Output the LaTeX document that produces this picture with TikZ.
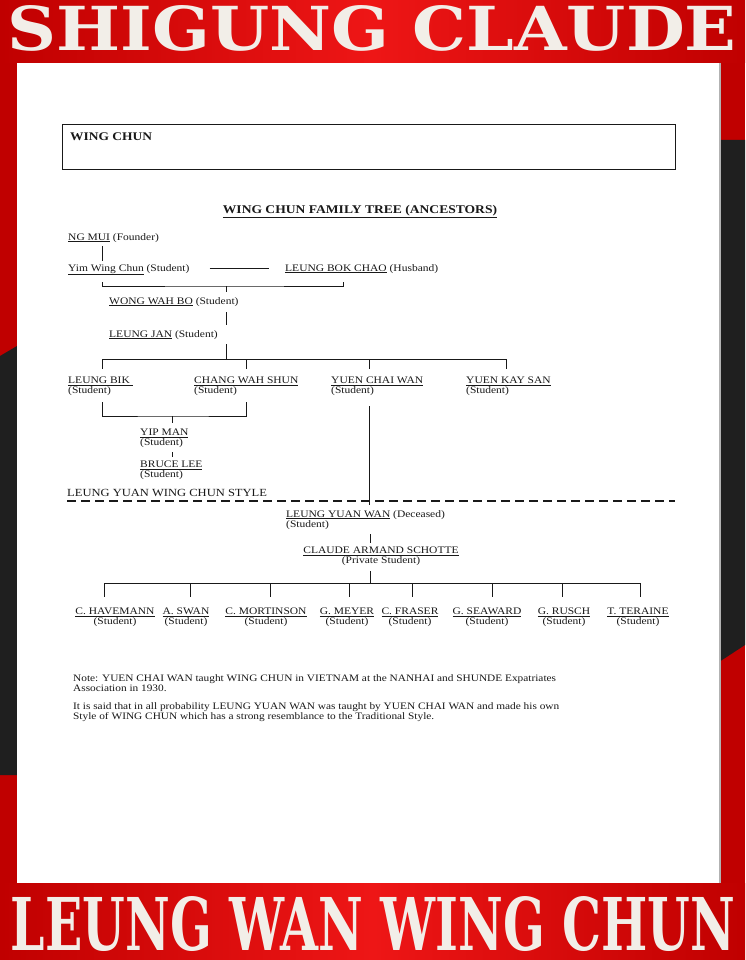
\documentclass[tikz,border=0pt]{standalone}
\usepackage{fontspec}
\usepackage{graphicx}
\setmainfont{Liberation Serif}[FakeStretch=1.15]
\newfontfamily\bannerfont{DejaVu Serif}
\usetikzlibrary{positioning,calc}

\definecolor{bannerred}{RGB}{238,22,22}
\definecolor{bannerdark}{RGB}{192,0,0}
\definecolor{stencil}{RGB}{242,238,232}
\definecolor{inkgray}{RGB}{25,25,25}

\begin{document}
\begin{tikzpicture}[x=1pt,y=-1pt,
  font=\fontsize{10}{10}\selectfont,text=inkgray,
  oneline/.style={inner sep=0pt,anchor=base west},
  person/.style={inner sep=0pt,align=left,anchor=north west},
  pupil/.style={inner sep=0pt,align=center,anchor=north},
  link/.style={draw=inkgray,line width=1pt},
  divider/.style={draw=inkgray,line width=1.1pt,dash pattern=on 9pt off 5pt},
  banner/.style={text=stencil,inner sep=0pt}
]
\useasboundingbox (0,0) rectangle (745,960);

% frame and page
\fill[bannerdark] (0,0) rectangle (745,960);
\shade[left color=bannerdark,right color=bannerred] (0,0) rectangle (372,63);
\shade[left color=bannerred,right color=bannerdark] (372,0) rectangle (745,63);
\shade[left color=bannerdark,right color=bannerred] (0,883) rectangle (372,960);
\shade[left color=bannerred,right color=bannerdark] (372,883) rectangle (745,960);
\fill[black!88] (0,356) -- (17,346) -- (17,775) -- (0,775) -- cycle;
\fill[black!88] (719,140) -- (745,140) -- (745,645) -- (719,662) -- cycle;
\fill[white] (17,63) rectangle (719,883);
\draw[gray!60,line width=1.5pt] (720,63) -- (720,883);

\node[banner] (topline) at (372,28) {\resizebox{729pt}{45pt}{\bannerfont\bfseries SHIGUNG CLAUDE}};
\node[banner] (bottomline) at (373,924) {\resizebox{724pt}{54pt}{\bannerfont\bfseries LEUNG WAN WING CHUN}};

% heading
\node[draw=inkgray,line width=1pt,inner sep=0pt,minimum width=613pt,minimum height=45pt,anchor=north west] (headbox) at (62,124.5) {};
\node[oneline,font=\fontsize{11.7}{12}\selectfont\bfseries] (headtxt) at (70,141) {WING CHUN};
\node[inner sep=0pt,anchor=base,font=\fontsize{11.8}{12}\selectfont\bfseries] (title) at (360,213) {\underline{WING CHUN FAMILY TREE (ANCESTORS)}};

% ancestors
\node[oneline] (ngmui) at (68,240) {\underline{NG MUI} (Founder)};
\node[oneline] (yim) at (68,271) {\underline{Yim Wing Chun} (Student)};
\node[oneline] (bok) at (285,271) {\underline{LEUNG BOK CHAO} (Husband)};
\node[oneline] (wong) at (109,304) {\underline{WONG WAH BO} (Student)};
\node[oneline] (jan) at (109,337) {\underline{LEUNG JAN} (Student)};

\node[person] (bik) at (68,377) {\underline{LEUNG BIK\ }\\(Student)};
\node[person] (chang) at (194,377) {\underline{CHANG WAH SHUN}\\(Student)};
\node[person] (yuencw) at (331,377) {\underline{YUEN CHAI WAN}\\(Student)};
\node[person] (yuenks) at (466,377) {\underline{YUEN KAY SAN}\\(Student)};
\node[person] (yip) at (140,429) {\underline{YIP MAN}\\(Student)};
\node[person] (bruce) at (140,461) {\underline{BRUCE LEE}\\(Student)};

\coordinate (parents) at (226,286);
\coordinate (janbar) at (226,359);
\coordinate (yipjoin) at (172,416);
\coordinate (spine) at (369,505);

\draw[link] ([xshift=34pt,yshift=-4pt]ngmui.south west) -- ([xshift=34pt,yshift=3pt]yim.north west);
\draw[link,shorten <=20pt,shorten >=16pt] ([yshift=1pt]yim.east) -- ([yshift=1pt]bok.west |- yim.east);
\draw[link] ([xshift=34pt,yshift=-7pt]yim.south west) |- (parents) -| ([xshift=58pt,yshift=-7pt]bok.south west |- yim.south west);
\draw[link,shorten >=5pt] (parents) -- (wong.north -| parents);
\draw[link,shorten <=6pt,shorten >=5pt] (wong.south -| parents) -- (jan.north -| parents);
\draw[link,shorten <=5pt] (jan.south -| janbar) -- (janbar);
\draw[link] ($(janbar -| bik.north)+(2,0)$) -- ($(janbar -| yuenks.north)+(-2,0)$);
\foreach \who/\dx in {bik/2,chang/0,yuencw/-8,yuenks/-2}
  \draw[link,shorten >=8pt] ($(janbar -| \who.north)+(\dx,0)$) -- ($(\who.north)+(\dx,0)$);
\draw[link,shorten <=6pt,shorten >=6pt] ([xshift=2pt]bik.south) |- (yipjoin) -| (chang.south);
\draw[link,shorten >=6pt] (yipjoin) -- (yipjoin |- yip.north);
\draw[link,shorten <=4pt,shorten >=4pt] (yip.south -| yipjoin) -- (bruce.north -| yipjoin);

% Leung Yuan line
\node[oneline,font=\fontsize{10.9}{11}\selectfont] (stylelbl) at (67,496) {LEUNG YUAN WING CHUN STYLE};
\draw[divider] ([yshift=-5pt]stylelbl.base west) -- ++(608,0);

\node[person] (leungyw) at (286,510) {\underline{LEUNG YUAN WAN} (Deceased)\\(Student)};
\node[pupil] (claude) at (381,547) {\underline{CLAUDE ARMAND SCHOTTE}\\(Private Student)};
\coordinate (cbar) at (370,583);
\draw[link,shorten <=10pt,shorten >=5pt] (yuencw.south -| spine) -- (leungyw.north -| spine);
\draw[link,shorten <=5pt,shorten >=4pt] (leungyw.south -| cbar) -- (claude.north -| cbar);

\node[pupil] (hav) at (115,608) {\underline{C. HAVEMANN}\\(Student)};
\node[pupil] (swan) at (186,608) {\underline{A. SWAN}\\(Student)};
\node[pupil] (mort) at (266,608) {\underline{C. MORTINSON}\\(Student)};
\node[pupil] (mey) at (347,608) {\underline{G. MEYER}\\(Student)};
\node[pupil] (fra) at (410,608) {\underline{C. FRASER}\\(Student)};
\node[pupil] (sea) at (487,608) {\underline{G. SEAWARD}\\(Student)};
\node[pupil] (rus) at (564,608) {\underline{G. RUSCH}\\(Student)};
\node[pupil] (ter) at (638,608) {\underline{T. TERAINE}\\(Student)};

\draw[link,shorten <=5pt] (claude.south -| cbar) -- (cbar);
\draw[link] ($(cbar -| hav.north)+(-11,0)$) -- ($(cbar -| ter.north)+(2,0)$);
\foreach \who/\dx in {hav/-11,swan/4,mort/4,mey/2,fra/2,sea/5,rus/-2,ter/2}
  \draw[link,shorten >=11pt] ($(cbar -| \who.north)+(\dx,0)$) -- ($(\who.north)+(\dx,0)$);

% notes
\node[person,font=\fontsize{9.85}{10}\selectfont] (note1) at (73,674) {Note: YUEN CHAI WAN taught WING CHUN in VIETNAM at the NANHAI and SHUNDE Expatriates\\Association in 1930.};
\node[person,font=\fontsize{9.85}{10}\selectfont] (note2) at (73,702) {It is said that in all probability LEUNG YUAN WAN was taught by YUEN CHAI WAN and made his own\\Style of WING CHUN which has a strong resemblance to the Traditional Style.};
\end{tikzpicture}
\end{document}
